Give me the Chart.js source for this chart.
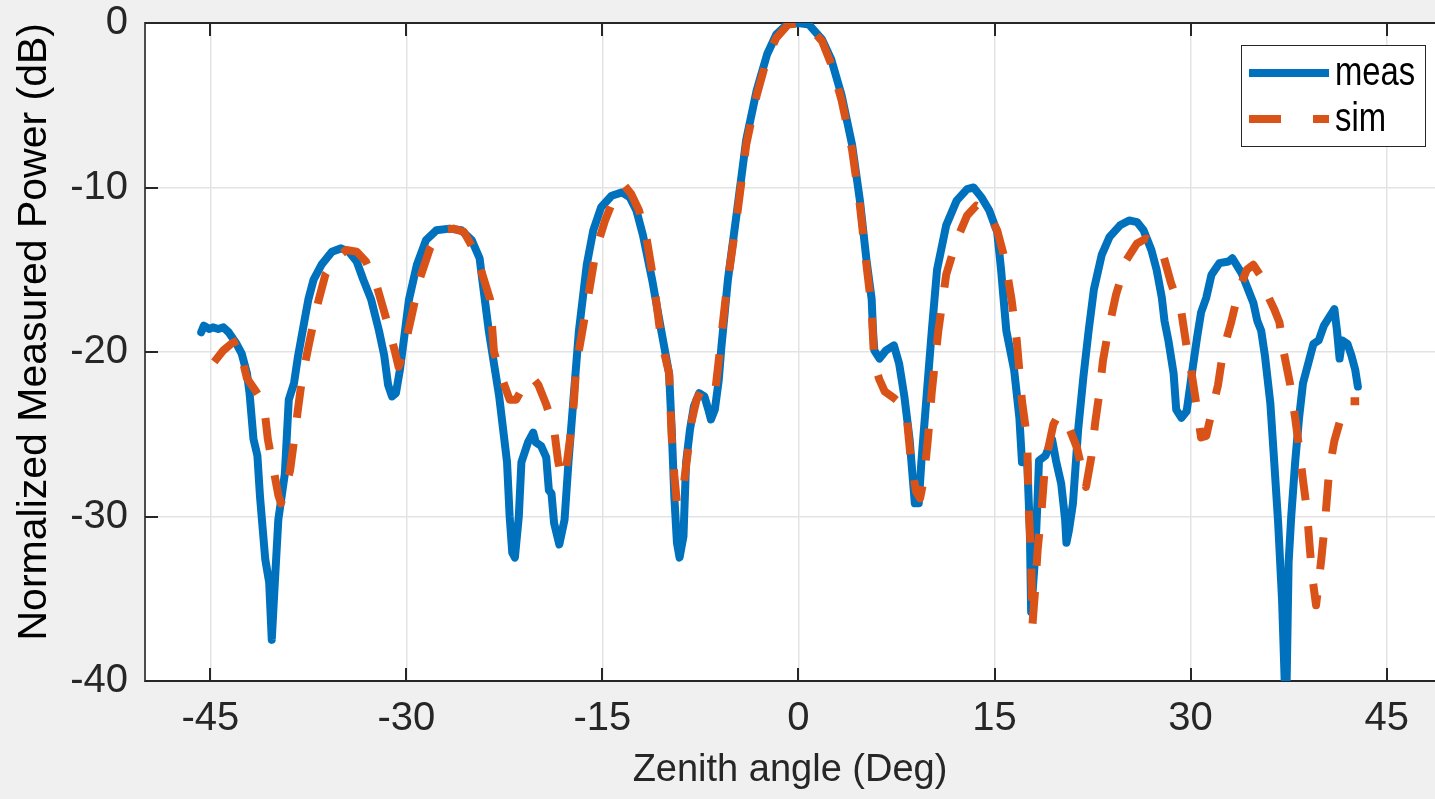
<!DOCTYPE html>
<html>
<head>
<meta charset="utf-8">
<title>Normalized measured power vs zenith angle</title>
<script src="https://cdn.jsdelivr.net/npm/chart.js@4.4.1/dist/chart.umd.min.js"></script>
<style>
  html, body { margin: 0; padding: 0; background: #f0f0f0; overflow: hidden; }
  canvas { display: block; }
</style>
</head>
<body>
<canvas id="patternChart" width="1435" height="799"></canvas>
<script>
// axis ticks
const xTicks = [-45, -30, -15, 0, 15, 30, 45];
const yTicks = [-40, -30, -20, -10, 0];

// measured pattern (deg, dB)
const measAngle = [
  -45.7, -45.5, -45.1, -44.8, -44.4, -44.0, -43.6, -43.0, -42.6, -42.2,
  -42.0, -41.7, -41.4, -41.2, -40.8, -40.5, -40.3, -40.1, -39.8, -39.3,
  -39.0, -38.6, -38.3, -37.8, -37.5, -37.1, -36.5, -35.7, -35.0, -34.4,
  -33.8, -33.3, -32.7, -32.1, -31.7, -31.4, -31.1, -30.8, -30.5, -30.2,
  -29.8, -29.2, -28.5, -27.7, -26.7, -25.8, -25.0, -24.4, -23.7, -23.3,
  -22.9, -22.3, -22.1, -21.9, -21.7, -21.4, -21.2, -20.7, -20.3, -20.1,
  -19.7, -19.3, -19.1, -18.9, -18.7, -18.3, -17.9, -17.6, -17.2, -16.8,
  -16.2, -15.7, -15.1, -14.3, -13.5, -12.9, -12.4, -11.9, -11.2, -10.5,
  -9.9, -9.7, -9.5, -9.3, -9.1, -8.8, -8.6, -8.3, -8.0, -7.6,
  -7.2, -6.9, -6.7, -6.4, -6.1, -5.9, -5.4, -4.7, -4.0, -3.2,
  -2.4, -1.7, -0.9, 0.0, 0.8, 1.8, 2.5, 3.3, 4.1, 4.7,
  5.2, 5.6, 5.7, 5.8, 6.2, 6.7, 7.3, 7.7, 8.1, 8.5,
  8.9, 9.2, 9.4, 9.8, 10.2, 10.6, 11.3, 12.1, 12.9, 13.4,
  14.0, 14.6, 15.2, 15.5, 15.9, 16.5, 16.9, 17.1, 17.5, 17.7,
  17.8, 18.1, 18.3, 18.4, 18.9, 19.4, 19.7, 20.1, 20.4, 20.5,
  20.7, 21.0, 21.4, 21.8, 22.2, 22.6, 23.2, 23.8, 24.6, 25.3,
  25.9, 26.4, 27.0, 27.4, 27.8, 28.0, 28.3, 28.7, 28.9, 29.3,
  29.7, 30.1, 30.5, 30.8, 31.2, 31.6, 32.2, 32.9, 33.2, 33.9,
  34.4, 34.8, 35.1, 35.4, 35.7, 36.1, 36.4, 36.7, 37.0, 37.2,
  37.3, 37.5, 37.7, 38.0, 38.3, 38.6, 39.0, 39.4, 39.8, 40.2,
  40.6, 41.0, 41.2, 41.4, 41.6, 42.0, 42.3, 42.6, 42.8
];
const measPower = [
  -18.8, -18.4, -18.6, -18.5, -18.6, -18.5, -18.8, -19.5, -20.1, -21.3,
  -22.5, -25.3, -26.3, -28.8, -32.6, -34.0, -37.5, -34.5, -30.2, -27.4,
  -22.9, -21.9, -20.3, -18.1, -16.8, -15.6, -14.7, -13.9, -13.7, -13.9,
  -14.5, -15.6, -16.8, -18.7, -20.2, -22.0, -22.7, -22.5, -21.1, -19.3,
  -16.8, -14.7, -13.2, -12.6, -12.5, -12.6, -13.2, -14.3, -18.7, -20.7,
  -22.7, -26.7, -30.0, -32.2, -32.5, -30.0, -26.7, -25.5, -24.9, -25.5,
  -25.7, -26.4, -28.4, -28.6, -30.4, -31.7, -30.2, -26.7, -22.7, -18.7,
  -14.7, -12.6, -11.2, -10.5, -10.3, -10.6, -11.4, -12.9, -15.6, -18.7,
  -21.3, -24.7, -28.8, -31.6, -32.5, -31.2, -26.7, -24.7, -23.3, -22.5,
  -22.7, -23.5, -24.1, -23.5, -21.7, -19.7, -15.6, -11.4, -7.1, -4.1,
  -1.9, -0.7, -0.1, 0.0, -0.1, -1.0, -2.2, -4.4, -7.4, -10.8,
  -14.4, -16.8, -18.7, -19.9, -20.4, -19.9, -19.6, -20.7, -22.7, -25.3,
  -29.2, -29.2, -26.7, -22.7, -18.7, -15.0, -12.3, -10.8, -10.1, -10.0,
  -10.6, -11.4, -12.7, -15.0, -18.7, -21.1, -24.0, -26.7, -26.7, -30.8,
  -35.8, -32.5, -28.8, -26.6, -26.3, -25.3, -26.6, -28.0, -30.2, -31.6,
  -30.8, -29.2, -24.7, -21.5, -18.7, -16.2, -14.1, -13.0, -12.3, -12.0,
  -12.1, -12.6, -13.8, -15.0, -16.7, -18.1, -19.3, -21.3, -23.5, -24.0,
  -23.6, -21.3, -19.1, -17.6, -16.7, -15.3, -14.6, -14.5, -14.3, -15.2,
  -16.2, -17.0, -18.1, -18.7, -20.3, -23.1, -26.7, -30.4, -35.1, -40.0,
  -42.4, -32.8, -30.0, -26.7, -24.0, -21.9, -20.7, -19.5, -19.3, -18.4,
  -17.9, -17.4, -18.7, -20.4, -19.3, -19.5, -20.2, -21.1, -22.1
];

// simulated pattern (deg, dB)
const simAngle = [
  -44.7, -44.0, -43.4, -42.9, -42.2, -41.5, -40.9, -40.6, -40.2, -39.8,
  -39.6, -39.3, -38.9, -38.6, -38.3, -38.0, -37.5, -37.0, -36.7, -36.2,
  -35.4, -34.6, -33.8, -33.1, -32.3, -31.5, -30.9, -30.6, -30.2, -29.6,
  -29.0, -28.2, -27.3, -26.4, -25.6, -24.9, -24.3, -23.6, -23.3, -22.6,
  -22.1, -21.6, -21.0, -20.4, -19.9, -19.3, -18.7, -18.4, -18.1, -17.8,
  -17.5, -17.2, -17.0, -16.6, -16.0, -15.5, -14.8, -14.2, -13.3, -12.8,
  -12.2, -11.6, -11.1, -10.5, -9.9, -9.7, -9.5, -9.3, -8.8, -8.5,
  -8.2, -7.8, -7.4, -6.9, -6.4, -6.1, -5.5, -4.7, -4.0, -3.2,
  -2.4, -1.7, -0.8, 0.0, 0.8, 1.8, 2.5, 3.3, 4.1, 4.7,
  5.2, 5.6, 5.8, 6.2, 6.6, 7.3, 7.9, 8.3, 8.6, 9.0,
  9.3, 9.6, 9.9, 10.2, 10.7, 11.3, 12.1, 12.9, 13.6, 14.4,
  15.2, 15.8, 16.3, 16.7, 17.1, 17.5, 17.6, 17.8, 17.9, 18.1,
  18.3, 18.6, 18.8, 19.1, 19.5, 19.9, 20.5, 21.3, 22.0, 22.4,
  22.7, 23.0, 23.3, 23.7, 24.3, 25.1, 25.9, 26.6, 27.2, 27.8,
  28.5, 29.3, 29.7, 30.1, 30.5, 30.8, 31.2, 31.6, 32.1, 32.5,
  33.1, 33.7, 34.3, 34.8, 35.3, 35.8, 36.4, 36.8, 37.1, 37.6,
  38.0, 38.3, 38.6, 38.9, 39.1, 39.3, 39.6, 40.0, 40.3, 40.6,
  41.0, 41.5, 42.0, 42.9
];
const simPower = [
  -20.6, -19.9, -19.5, -19.3, -21.6, -22.4, -23.2, -25.3, -27.0, -28.7,
  -29.2, -28.4, -27.2, -25.4, -23.5, -21.7, -19.7, -17.8, -16.8, -15.3,
  -14.3, -13.8, -13.9, -14.5, -15.9, -18.1, -19.9, -20.9, -19.9, -17.8,
  -15.6, -13.7, -12.6, -12.5, -12.7, -13.7, -15.0, -16.8, -20.0, -21.8,
  -22.9, -22.9, -22.0, -21.5, -22.0, -23.2, -24.7, -26.6, -27.7, -27.2,
  -25.4, -23.2, -20.8, -19.0, -16.2, -13.8, -12.0, -10.8, -9.9, -10.4,
  -11.4, -13.2, -15.6, -19.3, -21.3, -25.2, -27.5, -29.2, -28.2, -26.3,
  -24.3, -22.9, -22.3, -22.5, -22.6, -20.5, -16.2, -11.7, -7.4, -4.4,
  -2.1, -0.9, -0.1, 0.0, -0.2, -1.1, -2.5, -4.7, -7.7, -11.1,
  -14.7, -17.4, -20.7, -21.7, -22.4, -22.8, -23.2, -24.1, -26.6, -28.5,
  -28.9, -27.7, -25.3, -22.4, -18.7, -15.3, -13.2, -11.7, -11.1, -11.4,
  -12.6, -14.4, -16.8, -19.3, -23.0, -25.3, -29.3, -32.6, -36.6, -34.5,
  -32.0, -29.6, -27.5, -25.9, -24.4, -23.8, -24.2, -25.8, -28.2, -26.4,
  -24.3, -22.6, -20.5, -18.7, -16.5, -14.4, -13.4, -13.1, -13.3, -13.8,
  -15.8, -17.6, -19.7, -21.4, -23.5, -25.2, -25.1, -23.7, -22.0, -19.9,
  -18.2, -16.2, -15.0, -14.7, -15.3, -16.4, -17.4, -18.2, -19.9, -21.9,
  -24.0, -25.8, -27.8, -29.6, -31.7, -33.6, -35.4, -32.6, -30.2, -27.2,
  -25.4, -24.0, -23.0, -23.0
];

const toPoints = (xs, ys) => xs.map((v, i) => ({ x: v, y: ys[i] }));

const tickFont = { family: '"Liberation Sans", Arial, sans-serif', size: 40, lineHeight: 1 };
const TICK_LEN = 13;

// white plot box, inward ticks, top edge and the legend box
const framePlugin = {
  id: 'frame',
  beforeDraw(chart) {
    const { ctx, chartArea: a } = chart;
    ctx.save();
    ctx.fillStyle = '#f0f0f0';
    ctx.fillRect(0, 0, chart.width, chart.height);
    ctx.fillStyle = '#ffffff';
    ctx.fillRect(a.left, a.top, a.right - a.left, a.bottom - a.top);
    ctx.restore();
  },
  beforeDatasetsDraw(chart) {
    const { ctx, chartArea: a, scales: { x, y } } = chart;
    ctx.save();
    ctx.strokeStyle = '#262626';
    ctx.lineWidth = 2;
    ctx.beginPath();
    xTicks.forEach(v => {
      const px = Math.round(x.getPixelForValue(v));
      ctx.moveTo(px, a.bottom); ctx.lineTo(px, a.bottom - TICK_LEN);
      ctx.moveTo(px, a.top); ctx.lineTo(px, a.top + TICK_LEN);
    });
    yTicks.forEach(v => {
      const py = Math.round(y.getPixelForValue(v));
      ctx.moveTo(a.left, py); ctx.lineTo(a.left + TICK_LEN, py);
    });
    ctx.moveTo(a.left, a.top); ctx.lineTo(a.right, a.top);
    ctx.stroke();
    ctx.restore();
  },
  afterDraw(chart) {
    // legend in the upper right corner, MATLAB style
    const { ctx } = chart;
    const box = { left: 1241, top: 45, width: 184, height: 101 };
    ctx.save();
    ctx.fillStyle = '#ffffff';
    ctx.fillRect(box.left, box.top, box.width, box.height);
    ctx.strokeStyle = '#262626';
    ctx.lineWidth = 1;
    ctx.strokeRect(box.left + 0.5, box.top + 0.5, box.width, box.height);
    chart.data.datasets.forEach((ds, i) => {
      const yy = box.top + 28 + i * 46;
      ctx.strokeStyle = ds.borderColor;
      ctx.lineWidth = ds.borderWidth;
      ctx.lineCap = 'butt';
      ctx.setLineDash(ds.borderDash ? [32, 32] : []);
      ctx.beginPath();
      ctx.moveTo(box.left + 8, yy);
      ctx.lineTo(box.left + 88, yy);
      ctx.stroke();
      // squeeze the label horizontally to mimic the narrow face
      ctx.save();
      ctx.translate(box.left + 94, yy + 1);
      ctx.scale(0.82, 1);
      ctx.font = '40px "Liberation Sans", Arial, sans-serif';
      ctx.textBaseline = 'middle';
      ctx.fillStyle = '#000000';
      ctx.fillText(ds.label, 0, 0);
      ctx.restore();
    });
    ctx.restore();
  }
};

new Chart(document.getElementById('patternChart'), {
  type: 'line',
  data: {
    datasets: [{
      label: 'meas',
      data: toPoints(measAngle, measPower),
      borderColor: '#0072bd',
      borderWidth: 8,
      borderJoinStyle: 'round',
      borderCapStyle: 'round',
      pointRadius: 0,
      tension: 0,
      clip: 0,
      order: 2
    }, {
      label: 'sim',
      data: toPoints(simAngle, simPower),
      borderColor: '#d95319',
      borderWidth: 8,
      borderDash: [32, 26],
      borderJoinStyle: 'round',
      borderCapStyle: 'butt',
      pointRadius: 0,
      tension: 0,
      clip: 0,
      order: 1
    }]
  },
  options: {
    responsive: false,
    animation: false,
    devicePixelRatio: 1,
    layout: { padding: { top: 23, left: 0, right: 0, bottom: 0 } },
    plugins: { legend: { display: false }, tooltip: { enabled: false } },
    scales: {
      x: {
        type: 'linear',
        min: -50,
        max: 48.7,
        afterBuildTicks: s => { s.ticks = xTicks.map(v => ({ value: v })); },
        afterFit: s => { s.height = 118; s.paddingLeft = 0; s.paddingRight = 0; },
        grid: { color: '#e3e3e3', lineWidth: 1.5, drawTicks: false },
        border: { display: true, color: '#262626', width: 2 },
        ticks: { font: tickFont, color: '#262626', padding: 18, maxRotation: 0 },
        title: {
          display: true,
          text: 'Zenith angle (Deg)',
          font: { family: '"Liberation Sans", Arial, sans-serif', size: 38, lineHeight: 1 },
          color: '#262626',
          padding: { top: 0, bottom: 9 }
        }
      },
      y: {
        min: -40,
        max: 0,
        afterBuildTicks: s => { s.ticks = yTicks.map(v => ({ value: v })); },
        afterFit: s => { s.width = 145; s.paddingTop = 0; s.paddingBottom = 0; },
        grid: { color: '#e3e3e3', lineWidth: 1.5, drawTicks: false },
        border: { display: true, color: '#4d4d4d', width: 2 },
        ticks: { font: tickFont, color: '#262626', padding: 17 },
        title: {
          display: true,
          align: 'end',
          text: 'Normalized Measured Power (dB)',
          font: { family: '"Liberation Sans", Arial, sans-serif', size: 41, lineHeight: 1 },
          color: '#000000',
          padding: { top: 14, bottom: 0 }
        }
      }
    }
  },
  plugins: [framePlugin]
});
</script>
</body>
</html>
